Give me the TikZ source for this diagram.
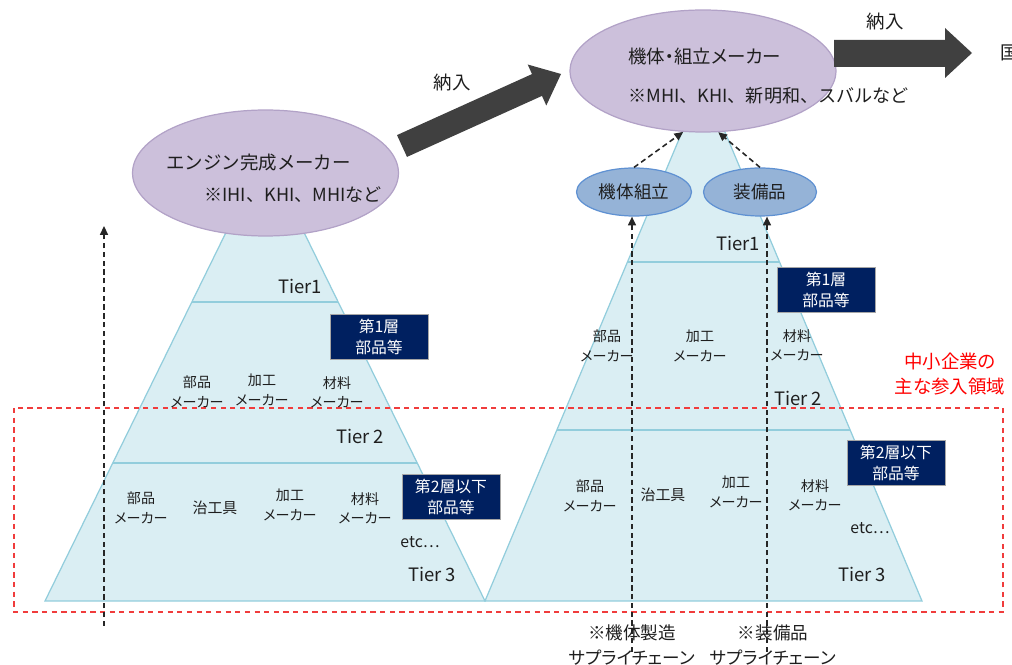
\documentclass[tikz,border=0pt]{standalone}
\usepackage{fontspec}
\setmainfont{Noto Sans CJK JP}[RawFeature=+palt]
\newfontfamily\fw{Noto Sans CJK JP}
\usetikzlibrary{shapes.geometric,arrows.meta}
\definecolor{pyrfill}{RGB}{218,238,243}
\definecolor{pyrline}{RGB}{146,205,220}
\definecolor{lavfill}{RGB}{204,192,219}
\definecolor{lavline}{RGB}{178,162,199}
\definecolor{bluefill}{RGB}{149,179,215}
\definecolor{blueline}{RGB}{95,145,210}
\definecolor{navy}{RGB}{0,32,96}
\definecolor{arrowgray}{RGB}{64,64,64}
\definecolor{redline}{RGB}{240,60,60}
\definecolor{txt}{RGB}{30,30,30}
\tikzset{
  pyr/.style={fill=pyrfill, draw=pyrline, line width=0.7pt},
  tierline/.style={draw=pyrline, line width=0.7pt},
  bigell/.style={ellipse, fill=lavfill, draw=lavline, line width=0.7pt, inner sep=0},
  smallell/.style={ellipse, fill=bluefill, draw=blueline, line width=0.7pt, inner sep=0,
     minimum width=2.3cm, minimum height=0.96cm, font=\fontsize{10}{12}\selectfont, text=txt},
  navybox/.style={fill=navy, draw=gray!70, line width=0.5pt, text=white, align=center,
     minimum width=1.96cm, minimum height=0.9cm, inner sep=0,
     font=\fontsize{9}{12.2}\selectfont},
  lbl/.style={align=center, inner sep=0, text=txt, font=\fontsize{8}{11}\selectfont},
  tier/.style={inner sep=0, text=txt, font=\fontsize{10.5}{12}\selectfont},
  etc/.style={inner sep=0, text=txt, font=\fontsize{9}{11}\selectfont},
  title/.style={inner sep=0, text=txt, font=\fontsize{10.5}{12}\selectfont},
  sub/.style={inner sep=0, text=txt, font=\fw\fontsize{10.3}{12}\selectfont},
  foot/.style={align=center, inner sep=0, text=txt, font=\fontsize{10}{14}\selectfont},
  redlbl/.style={align=center, inner sep=0, text=red, font=\fontsize{10.5}{14}\selectfont},
  dasharrow/.style={draw=black!85, line width=0.9pt, dash pattern=on 3pt off 2pt,
     -{Triangle[length=5pt,width=4.5pt]}},
  bigarrow/.style={fill=arrowgray, draw=none},
}
\begin{document}
\begin{tikzpicture}[x=0.02cm, y=-0.02cm]
\useasboundingbox (0,0) rectangle (1012,665);

% pyramids
\draw[pyr] (265,153) -- (45,601) -- (485,601) -- cycle;
\draw[tierline] (192.2,302) -- (337.8,302);
\draw[tierline] (112.8,463) -- (417.2,463);
\draw[pyr] (703.5,81) -- (485,601) -- (922,601) -- cycle;
\draw[tierline] (627.5,262) -- (779.5,262);
\draw[tierline] (556.9,430) -- (850.1,430);

% red dashed region
\draw[redline, line width=0.9pt, dash pattern=on 3pt off 2.5pt] (14,408) rectangle (1003,612);
\node[redlbl] (sme) at (950,374) {中小企業の\\主な参入領域};

% ellipses
\node[bigell, minimum width=5.32cm, minimum height=2.52cm] (engine) at (265.5,173) {};
\node[title, font=\fw\fontsize{10.5}{12}\selectfont, anchor=west] (engt) at (166,163) {エンジン完成メーカー};
\node[sub, anchor=west] (engs) at (204,195) {※IHI、KHI、MHIなど};
\node[bigell, minimum width=5.32cm, minimum height=2.44cm] (maker) at (703,71) {};
\node[title, anchor=west] (makt) at (628,57) {機体・組立メーカー};
\node[sub, anchor=west] (maks) at (628,96) {※MHI、KHI、新明和、スバルなど};

\node[smallell] (kitai) at (634,192) {機体組立};
\node[smallell, minimum width=2.26cm] (soubi) at (760,192) {装備品};

% big arrows
\fill[bigarrow] (407,156.9) -- (397,135.1) -- (532,74.1) -- (527.7,64.5) -- (561,74)
   -- (546.3,105.5) -- (542,95.9) -- cycle;
\node[title] (nyu1) at (452,83) {納入};
\fill[bigarrow] (834,40) -- (945,40) -- (945,28) -- (972,53) -- (945,78) -- (945,67) -- (834,67) -- cycle;
\node[title] (nyu2) at (885,22) {納入};
\node[title, anchor=west] (koku) at (1000,53) {国};

% dashed arrows
\draw[dasharrow] (kitai.north) -- (maker.-108);
\draw[dasharrow] (soubi.north) -- (maker.-76);
\coordinate (b1) at (632,652);
\coordinate (b2) at (767,652);
\draw[dasharrow] (b1) -- (b1 |- kitai.south);
\draw[dasharrow] (b2) -- (b2 |- soubi.south);
\coordinate (l1) at (104,626);
\coordinate (l2) at (104,226);
\draw[dasharrow] (l1) -- (l2);

% left pyramid labels
\node[tier] (lt1) at (300,286) {Tier1};
\node[lbl] (la1) at (197,392) {部品\\メーカー};
\node[lbl] (la2) at (262,390) {加工\\メーカー};
\node[lbl] (la3) at (337,392) {材料\\メーカー};
\node[tier] (lt2) at (360,436) {Tier 2};
\node[lbl] (lb1) at (141,508) {部品\\メーカー};
\node[lbl, font=\fontsize{8.5}{11}\selectfont] (lb2) at (215,508) {治工具};
\node[lbl] (lb3) at (290,505) {加工\\メーカー};
\node[lbl] (lb4) at (365,508) {材料\\メーカー};
\node[etc] (letc) at (420,542) {etc…};
\node[tier] (lt3) at (432,574) {Tier 3};
\node[navybox] (lbox1) at (379,337) {第1層\\部品等};
\node[navybox] (lbox2) at (451,497) {第2層以下\\部品等};

% right pyramid labels
\node[tier] (rt1) at (738,243) {Tier1};
\node[lbl] (ra1) at (607,346) {部品\\メーカー};
\node[lbl] (ra2) at (700,346) {加工\\メーカー};
\node[lbl] (ra3) at (797,345) {材料\\メーカー};
\node[tier] (rt2) at (798,398) {Tier 2};
\node[lbl] (rb1) at (590,496) {部品\\メーカー};
\node[lbl, font=\fontsize{8.5}{11}\selectfont] (rb2) at (663,495) {治工具};
\node[lbl] (rb3) at (736,492) {加工\\メーカー};
\node[lbl] (rb4) at (815,495) {材料\\メーカー};
\node[etc] (retc) at (870,528) {etc…};
\node[tier] (rt3) at (862,574) {Tier 3};
\node[navybox] (rbox1) at (826,290) {第1層\\部品等};
\node[navybox] (rbox2) at (896,463) {第2層以下\\部品等};

% footer
\node[foot] (f1) at (632,645) {※機体製造\\サプライチェーン};
\node[foot] (f2) at (773,645) {※装備品\\サプライチェーン};
\end{tikzpicture}
\end{document}
